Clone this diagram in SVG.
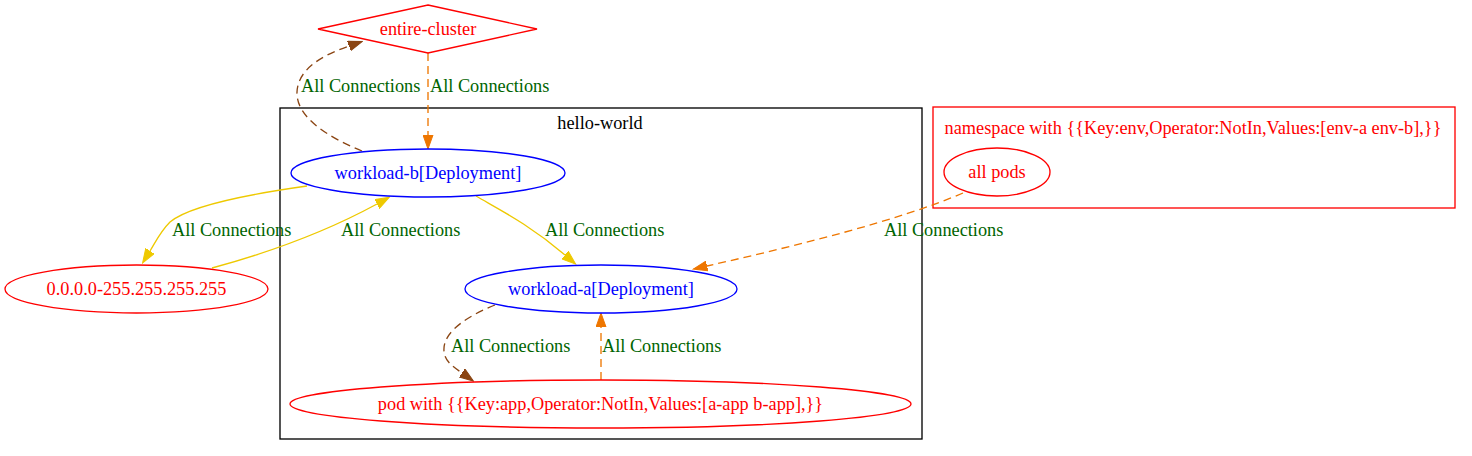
<svg xmlns="http://www.w3.org/2000/svg" width="1472" height="456" viewBox="0 0 1472 456">
<style>
text{font-family:"Liberation Serif","Times New Roman",serif;font-size:18.3px}
.n{fill:none;stroke-width:1.33}
.red{stroke:#ff0000}
.blue{stroke:#0000ff}
.tr{fill:#ff0000;text-anchor:middle}
.tb{fill:#0000ff;text-anchor:middle}
.lbl{fill:#006400}
.e{fill:none;stroke-width:1.33}
.gold{stroke:#eec900}
.orange{stroke:#ee7600;stroke-dasharray:8,5}
.brown{stroke:#8b4513;stroke-dasharray:8,5}
</style>
<defs>
<marker id="ag" markerUnits="userSpaceOnUse" markerWidth="15" markerHeight="11" refX="0" refY="5.5" orient="auto" viewBox="0 0 15 11"><path d="M0,0.5 L14,5.5 L0,10.5 z" fill="#eec900" stroke="#eec900"/></marker>
<marker id="ao" markerUnits="userSpaceOnUse" markerWidth="15" markerHeight="11" refX="0" refY="5.5" orient="auto" viewBox="0 0 15 11"><path d="M0,0.5 L14,5.5 L0,10.5 z" fill="#ee7600" stroke="#ee7600"/></marker>
<marker id="ab" markerUnits="userSpaceOnUse" markerWidth="15" markerHeight="11" refX="0" refY="5.5" orient="auto" viewBox="0 0 15 11"><path d="M0,0.5 L14,5.5 L0,10.5 z" fill="#8b4513" stroke="#8b4513"/></marker>
</defs>
<rect width="1472" height="456" fill="#ffffff"/>
<g id="cluster-hello-world">
<rect x="280" y="108" width="642" height="331" fill="none" stroke="#000000" stroke-width="1.33"/>
<text x="600" y="129" text-anchor="middle" fill="#000000">hello-world</text>
</g>
<g id="cluster-namespace">
<rect x="933" y="107" width="522" height="101" fill="none" stroke="#ff0000" stroke-width="1.33"/>
<text x="1193" y="134" class="tr">namespace with {{Key:env,Operator:NotIn,Values:[env-a env-b],}}</text>
</g>
<g id="edges">
<path class="e brown" d="M362,151 C330,138 296,118 297,92 C298,70 320,56 349,46" marker-end="url(#ab)"/>
<text x="301" y="92" class="lbl">All Connections</text>
<path class="e orange" d="M428,53 L428,135" marker-end="url(#ao)"/>
<text x="430" y="92" class="lbl">All Connections</text>
<path class="e gold" d="M307,186 C250,194 190,205 170,222 C160,232 155,243 150,251" marker-end="url(#ag)"/>
<text x="172" y="236" class="lbl">All Connections</text>
<path class="e gold" d="M212,268 C260,255 320,235 377,204" marker-end="url(#ag)"/>
<text x="341" y="236" class="lbl">All Connections</text>
<path class="e gold" d="M476,196 C500,210 530,225 565,255" marker-end="url(#ag)"/>
<text x="545" y="236" class="lbl">All Connections</text>
<path class="e orange" d="M963,193 C900,220 800,245 707,266" marker-end="url(#ao)"/>
<text x="884" y="236" class="lbl">All Connections</text>
<path class="e brown" d="M495,305 C470,315 445,330 444,348 C443,360 452,366 462,373" marker-end="url(#ab)"/>
<text x="451" y="352" class="lbl">All Connections</text>
<path class="e orange" d="M601,380 L601,327" marker-end="url(#ao)"/>
<text x="602" y="352" class="lbl">All Connections</text>
</g>
<g id="entire-cluster">
<polygon class="n red" points="428,5 537,29 428,53 318,29"/>
<text x="428" y="35" class="tr">entire-cluster</text>
</g>
<g id="workload-b">
<ellipse class="n blue" cx="428" cy="173" rx="137" ry="24"/>
<text x="428" y="179" class="tb">workload-b[Deployment]</text>
</g>
<g id="ip-range">
<ellipse class="n red" cx="136.5" cy="289" rx="131.5" ry="24"/>
<text x="136.5" y="295" class="tr">0.0.0.0-255.255.255.255</text>
</g>
<g id="workload-a">
<ellipse class="n blue" cx="601" cy="289" rx="136" ry="24"/>
<text x="601" y="295" class="tb">workload-a[Deployment]</text>
</g>
<g id="pod-selector">
<ellipse class="n red" cx="600.5" cy="404" rx="310.5" ry="24"/>
<text x="600.5" y="410" class="tr">pod with {{Key:app,Operator:NotIn,Values:[a-app b-app],}}</text>
</g>
<g id="all-pods">
<ellipse class="n red" cx="997" cy="172" rx="53" ry="24"/>
<text x="997" y="178" class="tr">all pods</text>
</g>
</svg>
